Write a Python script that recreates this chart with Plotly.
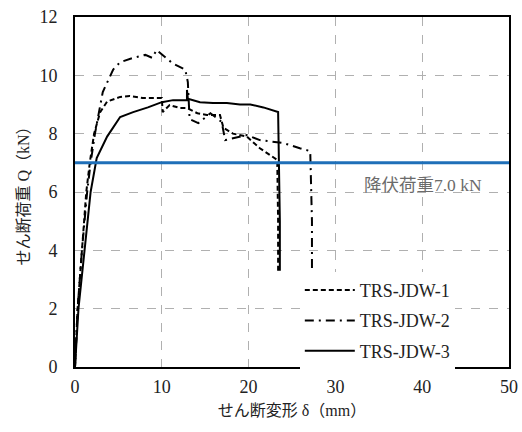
import plotly.graph_objects as go

# Data
x1 = [0, 0.3, 0.8, 1.3, 1.7, 2.2, 2.9, 3.7, 5.2, 6.3, 7.8, 10.0, 10.1, 10.9, 12.1, 12.9, 14.1, 15.2, 16.7, 17.1, 18.2, 19.8, 21.3, 23.3, 23.4, 23.4]
y1 = [0, 2.0, 4.0, 6.0, 7.0, 8.0, 8.74, 9.1, 9.26, 9.29, 9.22, 9.22, 8.74, 8.98, 8.88, 8.88, 8.7, 8.64, 8.64, 8.2, 8.0, 7.9, 7.5, 7.1, 5.0, 3.3]

x2 = [0, 0.3, 0.8, 1.4, 1.8, 2.3, 3.2, 4.4, 5.2, 6.7, 8.1, 8.9, 9.4, 10.1, 11.3, 12.7, 13.0, 13.2, 14.2, 15.6, 16.9, 17.3, 19.8, 21.3, 24.0, 25.9, 27.1, 27.3, 27.3]
y2 = [0, 2.0, 4.0, 6.0, 7.0, 8.0, 9.43, 10.2, 10.45, 10.6, 10.7, 10.6, 10.87, 10.7, 10.4, 10.2, 9.77, 8.5, 8.36, 8.7, 8.4, 7.78, 7.95, 7.78, 7.68, 7.5, 7.4, 5.0, 3.3]

x3 = [0, 0.4, 1.1, 1.8, 2.5, 3.7, 5.2, 6.7, 8.4, 10.0, 11.3, 12.9, 12.9, 13.0, 14.4, 15.9, 17.5, 19.0, 20.2, 21.7, 23.4, 23.6, 23.6]
y3 = [0, 2.0, 4.0, 6.0, 7.16, 7.9, 8.57, 8.74, 8.9, 9.08, 9.15, 9.15, 9.5, 9.2, 9.08, 9.05, 9.05, 9.0, 9.0, 8.9, 8.74, 5.0, 3.3]

names = ["TRS-JDW-1", "TRS-JDW-2", "TRS-JDW-3"]
yield_load = 7.0
yield_label = "降伏荷重7.0 kN"
x_title = "せん断変形 δ（mm）"
y_title = "せん断荷重 Q（kN）"

FONT = "Liberation Serif, Noto Sans CJK JP, serif"

fig = go.Figure()
fig.add_trace(go.Scatter(x=x1, y=y1, mode="lines", name=names[0], legendgroup="a",
                         line=dict(color="black", width=2, dash="5px,3px")))
fig.add_trace(go.Scatter(x=x2, y=y2, mode="lines", name=names[1], legendgroup="b",
                         line=dict(color="black", width=2, dash="9px,5px,2px,5px")))
fig.add_trace(go.Scatter(x=x3, y=y3, mode="lines", name=names[2], legendgroup="c",
                         line=dict(color="black", width=2)))

fig.add_hline(y=yield_load, line=dict(color="#1f6fb8", width=3))
fig.add_annotation(x=33.1, y=6.25, xref="x", yref="y", text=yield_label, showarrow=False,
                   xanchor="left", yanchor="middle",
                   font=dict(family=FONT, size=17.5, color="#6b6b6b"))

fig.update_layout(
    width=522, height=432,
    margin=dict(l=75, r=13, t=17, b=65, autoexpand=False),
    paper_bgcolor="white", plot_bgcolor="white",
    font=dict(family=FONT, size=18, color="#222222"),
    showlegend=True,
    legend=dict(x=0.518, y=0.272, xanchor="left", yanchor="top",
                bgcolor="white", borderwidth=0,
                font=dict(family=FONT, size=18, color="#222222"),
                tracegroupgap=4, itemwidth=50),
)
fig.update_xaxes(range=[0, 50], dtick=10, showgrid=True, gridcolor="#b0b0b0", griddash="dash",
                 gridwidth=1, showline=True, linecolor="black", linewidth=2, mirror=True,
                 zeroline=False, ticks="", tickfont=dict(size=18), automargin=False,
                 ticklabelstandoff=2, ticklabeloverflow="allow",
                 title=dict(text=x_title, font=dict(size=16), standoff=9))
fig.update_yaxes(range=[0, 12], dtick=2, showgrid=True, gridcolor="#b0b0b0", griddash="dash",
                 gridwidth=1, showline=True, linecolor="black", linewidth=2, mirror=True,
                 zeroline=False, ticks="", tickfont=dict(size=18), automargin=False,
                 ticklabelstandoff=12, ticklabeloverflow="allow",
                 title=dict(text=y_title, font=dict(size=16), standoff=6))

fig.write_html("out.html",
               config={"displayModeBar": False},
               post_script="document.body.style.margin='0';document.body.style.overflow='hidden';")
